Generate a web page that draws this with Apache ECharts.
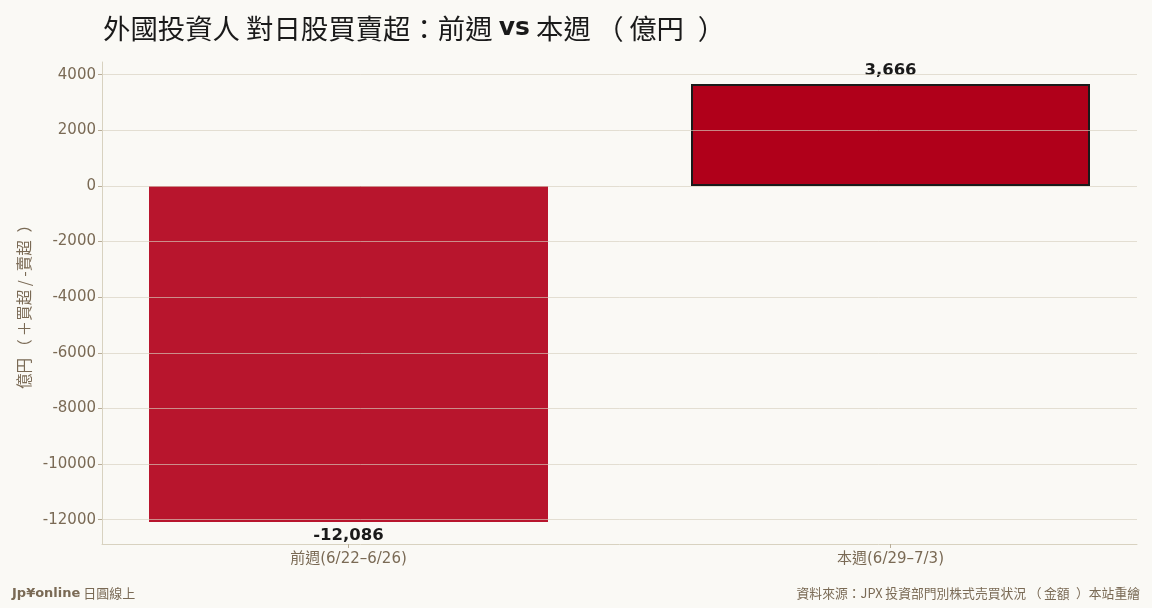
<!DOCTYPE html>
<html>
<head>
<meta charset="utf-8">
<script src="https://cdn.jsdelivr.net/npm/echarts@6/dist/echarts.min.js"></script>
<style>
html,body{margin:0;padding:0;background:#faf9f5;}
#main{width:1152px;height:608px;}
</style>
</head>
<body>
<div id="main"></div>
<script>
// 資料
var categories = ['前週(6/22–6/26)', '本週(6/29–7/3)'];
var netValues = [-12086, 3666];
var yTicks = [-12000, -10000, -8000, -6000, -4000, -2000, 0, 2000, 4000];
var barColors = ['#b8152d', '#b0001a'];

var FONT = 'DejaVu Sans, "Noto Sans CJK TC", sans-serif';
var CJK = '"Noto Sans CJK TC", "DejaVu Sans", sans-serif';
var muted = '#7a6a55';
// 全形括號兩側補空白
var L = '\u2009（\u2009', R = '\u2002）';

var chart = echarts.init(document.getElementById('main'));

var data = netValues.map(function (v, i) {
    return {
        value: [i, v],
        itemStyle: {
            color: barColors[i],
            borderColor: v > 0 ? '#1a1a1a' : 'transparent',
            borderWidth: v > 0 ? 2 : 0
        },
        label: {position: v < 0 ? 'bottom' : 'top'}
    };
});

chart.setOption({
    backgroundColor: '#faf9f5',
    animation: false,
    title: {
        text: '外國投資人 對日股買賣超：前週 {b|vs} 本週' + L + '億円' + R,
        left: 98,
        top: 10,
        textStyle: {
            fontFamily: CJK,
            fontSize: 27.4,
            fontWeight: 'normal',
            color: '#1a1a1a',
            rich: {
                b: {fontFamily: FONT, fontSize: 25, fontWeight: 'bold', color: '#1a1a1a'}
            }
        }
    },
    graphic: [
        {
            type: 'text', left: 12, top: 587,
            style: {
                text: '{b|Jp¥online} 日圓線上',
                fill: muted, fontFamily: CJK, fontSize: 13,
                rich: {b: {fontFamily: FONT, fontWeight: 'bold', fontSize: 13, fill: muted}}
            }
        },
        {
            type: 'text', right: 12, top: 587,
            style: {
                text: '資料來源：JPX 投資部門別株式売買状況' + L + '金額' + R + '本站重繪',
                fill: muted, fontFamily: CJK, fontSize: 12.8
            }
        }
    ],
    grid: {left: 102, right: 15, top: 62, bottom: 64},
    xAxis: {
        type: 'value',
        min: -0.4548,
        max: 1.4548,
        axisLine: {show: true, onZero: false, lineStyle: {color: '#d8d2c0', width: 1}},
        axisTick: {show: true, length: 4, customValues: [0, 1], lineStyle: {color: '#b8ad98'}},
        axisLabel: {
            customValues: [0, 1],
            margin: 8,
            color: muted,
            fontFamily: FONT,
            fontSize: 15,
            formatter: function (v) { return categories[Math.round(v)]; }
        },
        splitLine: {show: false}
    },
    yAxis: {
        type: 'value',
        min: -12874,
        max: 4454,
        z: 5,
        name: '億円' + L + '＋買超 / -賣超' + R,
        nameLocation: 'middle',
        nameGap: 70,
        nameTextStyle: {color: muted, fontFamily: CJK, fontSize: 15.5},
        axisLine: {show: true, onZero: false, lineStyle: {color: '#d8d2c0', width: 1}},
        axisTick: {show: true, length: 4, customValues: yTicks, lineStyle: {color: '#b8ad98'}},
        axisLabel: {
            customValues: yTicks, margin: 6, color: muted, fontFamily: FONT, fontSize: 15,
            formatter: function (v) { return String(v); }
        },
        splitLine: {show: true, lineStyle: {color: 'rgba(215,208,190,0.65)', width: 1}}
    },
    series: [{
        type: 'bar',
        barWidth: 399,
        data: data,
        label: {
            show: true,
            distance: 5,
            color: '#1a1a1a',
            fontFamily: FONT,
            fontSize: 16.5,
            fontWeight: 'bold',
            formatter: function (p) { return p.value[1].toLocaleString('en-US'); }
        }
    }]
});
</script>
</body>
</html>
